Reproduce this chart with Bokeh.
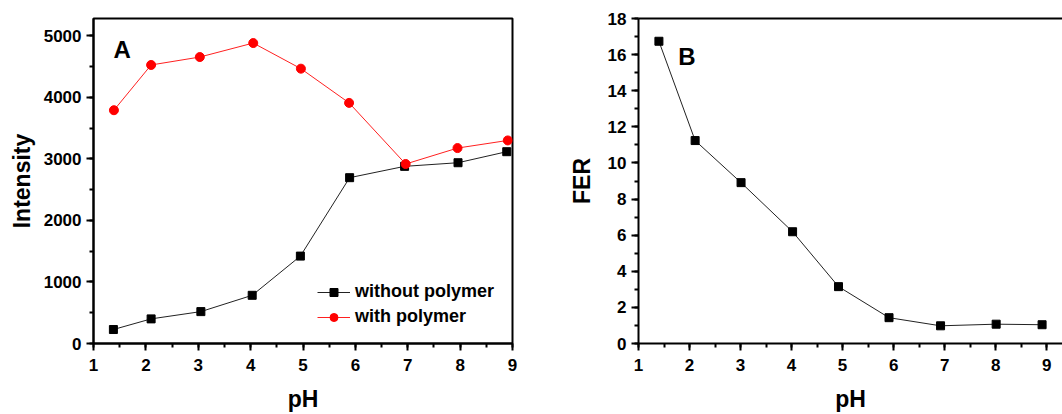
from bokeh.plotting import figure
from bokeh.layouts import row
from bokeh.models import (Range1d, SingleIntervalTicker, Legend, LegendItem, Label,
                          LinearAxis, FixedTicker)
from bokeh.embed import file_html
from bokeh.resources import INLINE

# ---- data ----
ph_a = [1.38, 2.10, 3.05, 4.03, 4.95, 5.89, 6.94, 7.96, 8.89]
without_polymer = [227, 400, 518, 783, 1420, 2694, 2878, 2937, 3116]
ph_a_red = [1.39, 2.10, 3.03, 4.05, 4.96, 5.88, 6.96, 7.95, 8.91]
with_polymer = [3790, 4525, 4654, 4881, 4465, 3909, 2916, 3175, 3299]

ph_b = [1.40, 2.11, 3.01, 4.02, 4.92, 5.91, 6.92, 8.01, 8.91]
fer = [16.74, 11.24, 8.91, 6.19, 3.15, 1.43, 0.98, 1.07, 1.04]

FONT = "Liberation Sans"


def style_axis(ax, interval):
    ax.ticker = SingleIntervalTicker(interval=interval, num_minor_ticks=2)
    ax.axis_line_width = 2
    ax.axis_line_color = "black"
    ax.major_tick_in = 0
    ax.major_tick_out = 7
    ax.minor_tick_in = 0
    ax.minor_tick_out = 4
    ax.major_tick_line_width = 2
    ax.minor_tick_line_width = 2
    ax.major_label_text_font = FONT
    ax.major_label_text_font_style = "bold"
    ax.major_label_text_font_size = "17px"
    ax.major_label_text_color = "black"
    ax.axis_label_text_font = FONT
    ax.axis_label_text_font_style = "bold"
    ax.axis_label_text_font_size = "23px"
    ax.axis_label_text_color = "black"


def make_fig(width, xr, yr, bl, br):
    p = figure(width=width, height=414, x_range=xr, y_range=yr,
               output_backend="svg", toolbar_location=None,
               min_border_left=bl, min_border_right=br,
               min_border_top=18, min_border_bottom=71)
    p.grid.visible = False
    p.background_fill_color = "white"
    p.border_fill_color = "white"
    return p


# ---- panel A ----
pa = make_fig(540, Range1d(1, 9), Range1d(0, 5280), 93, 28)
pa.outline_line_color = "black"
pa.outline_line_width = 2
pa.outline_line_alpha = 1
style_axis(pa.xaxis[0], 1)
style_axis(pa.yaxis[0], 1000)
pa.xaxis[0].major_label_standoff = 8
pa.yaxis[0].major_label_standoff = 5
pa.xaxis[0].axis_label = "pH"
pa.yaxis[0].axis_label = "Intensity"
pa.xaxis[0].axis_label_standoff = 12
pa.yaxis[0].axis_label_standoff = 6

l1 = pa.line(ph_a, without_polymer, line_color="#222222", line_width=1)
m1 = pa.scatter(ph_a, without_polymer, marker="square", size=8,
                fill_color="black", line_color="black")
l2 = pa.line(ph_a_red, with_polymer, line_color="#ff2020", line_width=1)
m2 = pa.scatter(ph_a_red, with_polymer, marker="circle", size=9,
                fill_color="#ff0000", line_color="#ff0000")

legend = Legend(items=[LegendItem(label="without polymer", renderers=[l1, m1]),
                       LegendItem(label="with polymer", renderers=[l2, m2])],
                location=(224, 16), padding=0, margin=0, spacing=4,
                glyph_width=33, glyph_height=20, label_height=20,
                label_standoff=5, border_line_color=None,
                background_fill_alpha=0,
                label_text_font=FONT, label_text_font_style="bold",
                label_text_font_size="18px", label_text_color="black")
pa.add_layout(legend, "center")

pa.add_layout(Label(x=1.38, y=4996, text="A", text_font=FONT,
                    text_font_style="bold", text_font_size="24px",
                    text_baseline="top", text_color="black"))

# ---- panel B ----
pb = make_fig(522, Range1d(1, 9.31), Range1d(0, 18), 98, 0)
pb.outline_line_color = None
style_axis(pb.xaxis[0], 1)
style_axis(pb.yaxis[0], 2)
pb.xaxis[0].major_label_standoff = 8
pb.yaxis[0].major_label_standoff = 5
pb.xaxis[0].axis_label = "pH"
pb.yaxis[0].axis_label = "FER"
pb.xaxis[0].axis_label_standoff = 12
pb.yaxis[0].axis_label_standoff = 10

top = LinearAxis(ticker=FixedTicker(ticks=[]), axis_line_width=2,
                 axis_line_color="black", major_tick_out=0, minor_tick_out=0,
                 major_label_text_font_size="0px")
pb.add_layout(top, "above")

pb.line(ph_b, fer, line_color="#222222", line_width=1)
pb.scatter(ph_b, fer, marker="square", size=8, fill_color="black",
           line_color="black")
pb.add_layout(Label(x=1.78, y=16.64, text="B", text_font=FONT,
                    text_font_style="bold", text_font_size="24px",
                    text_baseline="top", text_color="black"))

layout = row(pa, pb)
open("out.html", "w").write(file_html(layout, INLINE))
